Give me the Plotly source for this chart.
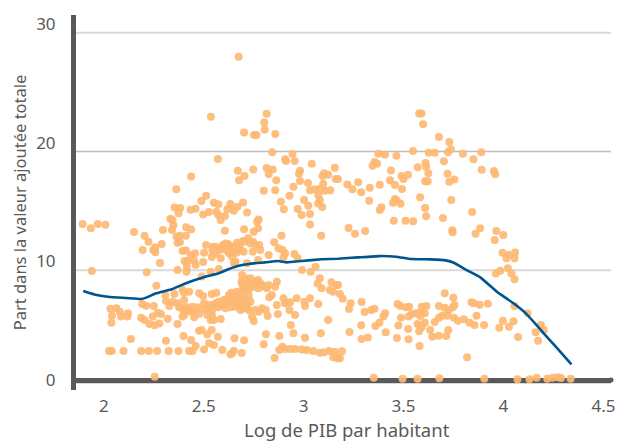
import plotly.graph_objects as go

# (log GDP per capita, share of total value added)
points_upper_left = [
(2.675,27.24),(2.536,22.18),(2.815,22.43),(2.803,21.70),(2.805,21.09),(2.702,20.86),(2.752,20.64),(2.764,20.64),(2.858,20.72),
(2.843,19.18),(2.944,19.04),(2.907,18.59),(2.912,18.45),(2.955,18.45),(3.041,18.22),(3.156,17.89),(2.571,18.61),(2.748,17.74),
(2.671,17.63),(2.815,17.86),(2.845,17.74),(2.825,17.35),(2.982,17.63),(2.977,17.38),(3.103,17.41),(3.123,17.29),(3.094,17.18),
(3.161,16.93),(2.437,17.15),(2.704,17.18),(2.677,16.82),(2.863,16.82),(2.982,16.76),(3.022,16.59),(3.098,16.54),(2.949,16.29),
(2.363,16.06),(2.801,15.95),(2.858,15.98),(3.032,15.98),(3.057,16.06),(3.085,16.14),(3.106,15.95),(3.133,15.98),(3.073,15.58),
(2.929,15.53),(2.512,15.53),(2.488,15.08),(2.551,14.94),(2.573,14.80),(2.633,14.82),(2.697,14.96),(2.669,14.60),(2.886,15.02),
(3.081,15.16),(3.002,15.16),(3.023,14.68),(3.073,14.88),(3.093,14.57),(2.354,14.54),(2.382,14.49),(2.374,14.04),(2.459,14.43),
(2.434,14.35),(2.901,14.38),(2.970,14.40),(2.990,13.90),(3.032,13.98),(2.618,14.38),(2.651,14.26),(2.717,14.12),(2.497,13.95),
(2.526,14.15),(2.563,14.18),(2.573,13.90),(2.333,13.59),(2.606,13.81),(2.775,13.53),
]
points_upper_right = [
(3.578,22.46),(3.590,22.46),(3.598,21.54),(3.677,20.47),(3.729,20.05),(3.737,19.43),(3.722,19.18),(3.374,19.07),(3.407,18.98),
(3.464,18.90),(3.547,19.29),(3.626,19.15),(3.656,19.15),(3.797,19.07),(3.889,19.18),(3.850,18.59),(3.702,18.42),(3.610,18.28),
(3.613,17.94),(3.355,18.36),(3.368,18.22),(3.345,18.06),(3.571,17.92),(3.437,17.66),(3.891,17.72),(3.952,17.61),(3.959,17.33),
(3.624,17.41),(3.720,17.38),(3.522,17.30),(3.490,17.19),(3.500,16.93),(3.754,16.90),(3.729,16.71),(3.608,16.74),(3.621,16.74),
(3.432,16.82),(3.172,16.93),(3.273,16.65),(3.219,16.48),(3.244,16.06),(3.331,16.20),(3.381,16.45),(3.457,16.43),(3.492,16.09),
(3.288,15.81),(3.583,15.39),(3.739,15.16),(3.328,15.11),(3.457,15.25),(3.467,15.11),(3.447,14.94),(3.485,14.85),(3.608,14.49),
(3.389,14.55),(3.381,14.32),(3.843,14.15),(3.613,13.79),(3.697,13.65),(3.451,13.42),(3.510,13.42),(3.548,13.37),(3.225,12.80),
(3.257,12.33),(3.308,12.55),(3.744,12.61),(3.745,12.44),(3.883,12.78),(3.860,12.33),(3.964,12.55),(3.999,12.21),(3.956,11.79),
(3.995,10.73),(4.025,10.56),(4.015,10.25),(4.058,10.75),(4.055,10.25),(4.022,9.41),(3.984,9.21),(3.962,8.98),(4.040,8.98),(4.055,8.48),
]
points_lower_right = [
(3.172,8.00),(3.181,7.24),(3.196,6.85),(3.235,6.46),(3.227,5.98),(3.290,6.57),(3.305,5.73),(3.338,5.90),(3.355,6.01),(3.408,5.62),
(3.399,5.34),(3.379,4.83),(3.359,4.55),(3.288,4.61),(3.229,4.04),(3.411,4.02),(3.290,3.45),(3.321,3.59),(3.192,2.42),(3.181,1.83),
(3.470,6.40),(3.484,6.23),(3.512,6.12),(3.528,6.18),(3.487,5.25),(3.525,5.34),(3.540,5.53),(3.562,5.62),(3.583,5.67),(3.606,5.62),
(3.591,6.18),(3.614,6.23),(3.583,5.39),(3.570,4.72),(3.606,4.83),(3.590,4.44),(3.578,4.10),(3.474,4.60),(3.523,4.30),(3.467,3.54),
(3.525,3.43),(3.580,2.87),(3.633,4.21),(3.644,3.65),(3.676,3.73),(3.714,3.71),(3.724,4.21),(3.656,4.89),(3.677,5.25),(3.694,5.42),
(3.719,5.42),(3.677,6.23),(3.706,6.09),(3.727,5.90),(3.747,6.12),(3.755,6.32),(3.706,7.30),(3.749,6.94),(3.752,5.25),(3.772,5.00),
(3.802,5.11),(3.830,4.83),(3.855,4.63),(3.865,5.42),(3.903,4.63),(3.840,6.54),(3.851,6.46),(3.881,6.35),(3.922,6.43),(3.818,1.91),
(3.997,5.00),(3.979,4.41),(4.027,4.49),(4.050,4.94),(4.055,6.23),(4.121,5.62),(4.073,3.62),(4.161,4.02),(4.173,3.31),(4.187,4.63),
(4.202,4.21),(3.351,0.20),(3.495,0.11),(3.570,0.11),(3.679,0.14),(3.904,0.11),(4.070,0.06),(4.130,0.06),(4.166,0.20),(4.219,0.11),
(4.245,0.20),(4.270,0.23),(4.288,0.17),(4.336,0.11),
]
points_lower_left = [
(1.894,13.14),(1.935,12.78),(1.970,13.14),(2.008,13.09),(1.940,9.18),(2.151,12.47),(2.204,12.16),(2.224,11.65),(2.194,10.95),
(2.258,11.18),(2.290,11.46),(2.248,10.95),(2.258,10.76),(2.281,9.86),(2.215,9.07),(2.296,12.64),(2.344,13.48),(2.348,13.06),
(2.341,12.64),(2.364,12.08),(2.381,12.16),(2.411,12.16),(2.412,12.86),(2.437,12.67),(2.369,11.57),(2.381,11.63),(2.394,10.87),
(2.411,10.90),(2.457,10.67),(2.435,10.53),(2.404,10.03),(2.452,10.05),(2.460,9.69),(2.497,9.94),(2.416,9.55),(2.414,9.13),
(2.369,9.27),(2.419,10.03),(2.512,11.37),(2.502,10.73),(2.546,11.23),(2.543,10.90),(2.540,10.37),(2.585,10.25),(2.576,10.95),
(2.596,11.37),(2.621,11.46),(2.601,11.09),(2.629,11.09),(2.626,10.67),(2.667,11.57),(2.651,11.23),(2.676,11.01),(2.664,10.73),
(2.697,11.71),(2.722,11.94),(2.747,11.65),(2.700,10.81),(2.659,9.97),(2.717,9.83),(2.745,10.81),(2.778,11.37),(2.783,10.95),
(2.772,10.11),(2.825,10.53),(2.853,11.60),(2.889,12.16),(2.874,11.09),(2.894,10.95),(2.907,10.67),(2.899,10.33),(2.954,10.62),
(2.970,10.25),(2.992,9.27),(3.035,9.13),(3.060,9.55),(3.032,13.11),(3.088,12.16),(2.585,13.48),(2.606,12.58),(2.702,12.69),
(2.750,12.50),(2.772,12.78),(2.767,13.34),(2.490,8.71),(2.535,9.13),(2.576,9.35),(3.081,8.57),(3.070,8.14),(3.090,7.72),
(3.139,8.23),(3.131,7.58),(3.148,7.44),(3.164,8.00),(2.692,8.85),(2.709,8.57),(2.734,8.57),(2.772,8.43),(2.692,8.14),(2.717,8.28),
(2.739,8.14),(2.783,8.14),(2.808,7.86),(2.825,8.00),(2.866,8.28),(2.858,7.86),(2.705,7.72),(2.750,7.86),(2.841,7.16),(2.828,6.97),
(2.700,7.30),(2.667,7.44),(2.639,7.36),(2.623,6.88),(2.651,6.74),(2.684,6.88),(2.725,7.08),(2.709,6.46),(2.734,6.60),(2.676,6.32),
(2.700,6.04),(2.684,5.90),(2.725,5.90),(2.643,6.46),(2.609,6.60),(2.593,6.32),(2.560,6.46),(2.573,6.12),(2.527,6.32),(2.543,5.90),
(2.502,6.46),(2.477,7.30),(2.497,7.08),(2.540,7.25),(2.563,7.36),(2.469,6.12),(2.444,6.18),(2.414,6.12),(2.394,6.04),(2.369,6.46),
(2.344,6.60),(2.402,6.74),(2.394,7.58),(2.402,7.36),(2.427,7.44),(2.353,7.25),(2.308,7.16),(2.311,6.66),(2.328,6.24),(2.263,7.95),
(2.192,6.40),(2.212,6.26),(2.250,6.24),(2.270,5.67),(2.245,5.34),(2.286,5.56),(2.320,5.17),(2.187,5.25),(2.204,5.06),(2.229,4.72),
(2.253,4.61),(2.278,4.77),(2.033,6.01),(2.063,6.04),(2.041,5.42),(2.080,5.76),(2.086,5.34),(2.121,5.62),(2.118,5.34),(2.038,4.83),
(2.394,5.34),(2.435,5.76),(2.452,5.28),(2.477,5.56),(2.518,5.48),(2.543,5.34),(2.551,5.06),(2.585,5.14),(2.369,4.72),(2.792,6.04),
(2.775,5.76),(2.811,5.90),(2.820,5.39),(2.742,5.34),(2.750,4.97),(2.866,6.32),(2.899,6.88),(2.907,6.46),(2.932,6.54),(2.965,6.88),
(2.871,5.56),(2.929,5.90),(2.957,5.48),(3.004,6.60),(3.007,6.24),(3.032,6.88),(3.073,6.40),(3.123,5.06),(2.936,4.64),(2.949,3.93),
(2.811,3.85),(2.878,3.71),(3.007,3.57),(3.086,3.93),(2.477,4.16),(2.490,4.21),(2.518,3.85),(2.540,4.21),(2.571,3.65),(2.399,3.71),
(2.311,3.31),(2.136,3.46),(2.437,3.37),(2.460,2.87),(2.527,3.09),(2.551,2.95),(2.654,3.51),(2.702,3.34),(2.800,3.01),(2.026,2.44),
(2.040,2.44),(2.099,2.44),(2.187,2.44),(2.225,2.44),(2.267,2.44),(2.325,2.44),(2.374,2.44),(2.427,2.44),(2.444,2.44),(2.502,2.58),
(2.593,2.53),(2.651,2.47),(2.642,2.25),(2.634,2.16),(2.690,2.28),(2.855,1.85),(2.878,2.53),(2.894,2.81),(2.907,2.61),(2.932,2.61),
(2.957,2.61),(2.990,2.58),(3.015,2.53),(3.048,2.44),(3.081,2.30),(3.101,2.33),(3.126,2.44),(3.156,2.39),(3.148,1.91),(3.169,1.83),
(2.255,0.28),
]
points_dense = [
(2.689,8.28),(2.696,7.72),(2.709,8.00),(2.725,7.58),(2.758,8.28),(2.791,8.00),(2.775,7.72),(2.816,7.72),(2.626,7.16),(2.601,6.74),
(2.576,6.60),(2.551,6.32),(2.659,7.16),(2.684,6.46),(2.700,6.74),(2.659,6.18),(2.634,6.12),(2.717,6.32),(2.609,6.04),(2.518,6.04),
(2.493,5.95),(2.452,5.90),(2.427,5.90),(2.402,5.76),(2.402,5.48),(2.377,6.12),(2.758,5.90),(2.535,5.06),(2.560,11.23),(2.609,11.51),
(2.634,11.29),(2.642,10.81),(2.684,11.51),(2.734,11.51),(2.758,11.37),(2.684,10.95),(2.609,10.95),(2.560,10.67),(2.709,11.66),
(2.642,10.39),(2.651,9.83),
]
trend_x = [1.897,1.964,2.030,2.113,2.187,2.212,2.262,2.344,2.402,2.460,2.510,2.576,2.626,2.675,2.734,2.808,2.874,2.916,2.990,3.090,
           3.172,3.272,3.379,3.462,3.537,3.636,3.711,3.752,3.818,3.884,3.967,4.050,4.116,4.199,4.265,4.340]
trend_y = [7.50,7.16,6.99,6.91,6.82,6.94,7.30,7.67,8.09,8.45,8.71,8.99,9.35,9.63,9.80,9.91,10.03,9.91,10.03,10.17,
           10.22,10.33,10.44,10.39,10.19,10.16,10.08,9.88,9.24,8.65,7.44,6.46,5.55,3.98,2.75,1.32]
x_ticks = [2, 2.5, 3, 3.5, 4, 4.5]
x_tick_labels = ["2", "2.5", "3", "3.5", "4", "4.5"]
y_ticks = [0, 10, 20, 30]
grid_light = [-0.25, 9.25, 29.25]
grid_dark = [19.25]

X_RANGE = [1.861, 4.538]
Y_RANGE = [-0.842, 30.75]
AXIS = "#58595b"
TEXT = "#595959"
FONT = "Noto Sans"

pts = points_upper_left + points_upper_right + points_lower_right + points_lower_left + points_dense

fig = go.Figure()
fig.add_trace(go.Scatter(x=[p[0] for p in pts], y=[p[1] for p in pts], mode="markers",
                         marker=dict(size=8, color="#fdb873", opacity=0.92, line=dict(width=0)),
                         cliponaxis=False, showlegend=False))
fig.add_trace(go.Scatter(x=trend_x, y=trend_y, mode="lines",
                         line=dict(color="#00558f", width=2.6, shape="spline", smoothing=0.3),
                         showlegend=False))
# rounded ends of the heavy axes
fig.add_trace(go.Scatter(x=[1.8485, 1.8485, X_RANGE[1]], y=[Y_RANGE[1], Y_RANGE[0], 0], mode="markers",
                         marker=dict(size=5, color=AXIS, line=dict(width=0)), cliponaxis=False,
                         showlegend=False, hoverinfo="skip"))

shapes = []
for v in grid_light:
    shapes.append(dict(type="line", xref="paper", x0=0, x1=1, yref="y", y0=v, y1=v, layer="below",
                       line=dict(color="#d9d9d9", width=2)))
for v in grid_dark:
    shapes.append(dict(type="line", xref="paper", x0=0, x1=1, yref="y", y0=v, y1=v, layer="below",
                       line=dict(color="#bdbdbd", width=1.4)))

fig.update_layout(
    width=622, height=442,
    margin=dict(l=76, r=7, t=15, b=52, pad=0),
    paper_bgcolor="white", plot_bgcolor="white",
    font=dict(family=FONT, size=17, color=TEXT),
    shapes=shapes, showlegend=False,
    xaxis=dict(range=X_RANGE, tickmode="array", tickvals=x_ticks, ticktext=x_tick_labels,
               showgrid=False, zeroline=False, showline=False, ticks="outside", ticklen=1,
               tickcolor="rgba(0,0,0,0)", tickfont=dict(size=17, color=TEXT, family=FONT)),
    yaxis=dict(range=Y_RANGE, tickmode="array", tickvals=y_ticks,
               showgrid=False, zeroline=True, zerolinecolor=AXIS, zerolinewidth=5,
               showline=True, linecolor=AXIS, linewidth=5, ticks="outside", ticklen=12,
               tickcolor="rgba(0,0,0,0)", tickfont=dict(size=17, color=TEXT, family=FONT),
               title=dict(text="Part dans la valeur ajoutée totale", font=dict(size=16.5, color=TEXT, family=FONT), standoff=7)),
    annotations=[dict(text="Log de PIB par habitant", xref="paper", yref="paper", x=0.5065, y=-0.104,
                      xanchor="center", yanchor="middle", showarrow=False,
                      font=dict(size=18.5, color=TEXT, family=FONT))],
)
fig.write_html("out.html", config={"displayModeBar": False}, post_script="document.body.style.margin='0';")
